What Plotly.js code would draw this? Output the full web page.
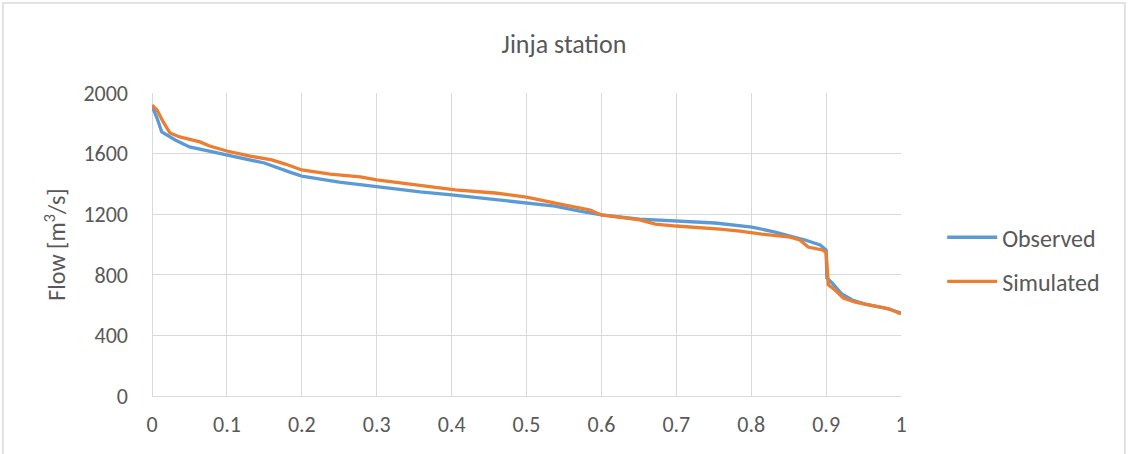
<!DOCTYPE html>
<html>
<head>
<meta charset="utf-8">
<script src="https://cdn.plot.ly/plotly-3.0.1.min.js"></script>
<style>
  html, body { margin: 0; padding: 0; background: #ffffff; }
  #chart { width: 1128px; height: 454px; }
</style>
</head>
<body>
<div id="chart"></div>
<script>
// Flow duration curves at Jinja: exceedance probability vs. flow (m3/s)
const obsExceedance = [0, 0.0067, 0.013, 0.031, 0.05, 0.1, 0.15, 0.184, 0.2, 0.25, 0.3, 0.358, 0.4, 0.451, 0.5, 0.538, 0.571, 0.6, 0.651, 0.7, 0.752, 0.801, 0.832, 0.872, 0.892, 0.9, 0.901, 0.908, 0.921, 0.935, 0.952, 0.979, 1.0];
const obsFlow = [1914, 1835, 1743, 1690, 1644, 1590, 1538, 1478, 1452, 1412, 1380, 1347, 1327, 1300, 1274, 1254, 1221, 1195, 1168, 1155, 1142, 1115, 1082, 1030, 997, 964, 779, 746, 673, 634, 607, 581, 548];

const simExceedance = [0, 0.0067, 0.015, 0.024, 0.037, 0.064, 0.077, 0.1, 0.131, 0.16, 0.178, 0.2, 0.238, 0.278, 0.3, 0.344, 0.385, 0.405, 0.458, 0.5, 0.545, 0.585, 0.6, 0.651, 0.672, 0.7, 0.758, 0.785, 0.814, 0.852, 0.865, 0.876, 0.895, 0.9, 0.903, 0.912, 0.923, 0.939, 0.965, 0.985, 1.0];
const simFlow = [1920, 1888, 1809, 1736, 1710, 1677, 1650, 1617, 1584, 1558, 1531, 1492, 1465, 1446, 1426, 1399, 1373, 1360, 1340, 1313, 1267, 1228, 1195, 1162, 1135, 1122, 1102, 1089, 1069, 1049, 1030, 983, 964, 950, 733, 700, 647, 620, 594, 574, 541];

const seriesNames = ['Observed', 'Simulated'];
const xTicks = [0, 0.1, 0.2, 0.3, 0.4, 0.5, 0.6, 0.7, 0.8, 0.9, 1];
const xTickText = ['0', '0.1', '0.2', '0.3', '0.4', '0.5', '0.6', '0.7', '0.8', '0.9', '1'];
const yTicks = [0, 400, 800, 1200, 1600, 2000];

const FONT = 'Carlito, Calibri, "Open Sans", "Liberation Sans", sans-serif';
const TEXT = '#595959';
const GRID = '#d9d9d9';

const traces = [
  {
    x: obsExceedance, y: obsFlow, name: seriesNames[0], legendgroup: 'obs',
    type: 'scatter', mode: 'lines',
    line: { color: '#5b9bd5', width: 3.3, shape: 'linear' }
  },
  {
    x: simExceedance, y: simFlow, name: seriesNames[1], legendgroup: 'sim',
    type: 'scatter', mode: 'lines',
    line: { color: '#ed7d31', width: 3.3, shape: 'linear' }
  }
];

const layout = {
  width: 1128, height: 454,
  margin: { l: 152, r: 227, t: 93, b: 58 },
  paper_bgcolor: '#ffffff', plot_bgcolor: '#ffffff',
  font: { family: FONT, color: TEXT, size: 22 },
  title: {
    text: 'Jinja station',
    font: { family: FONT, size: 26, color: TEXT },
    x: 0.5, xanchor: 'center', y: 0.904, yanchor: 'middle'
  },
  xaxis: {
    range: [0, 1], tickvals: xTicks, ticktext: xTickText,
    showgrid: true, gridcolor: GRID, gridwidth: 1,
    zeroline: true, zerolinecolor: GRID, zerolinewidth: 1,
    showline: true, linecolor: GRID, linewidth: 1,
    ticks: '', ticklabelstandoff: 9,
    tickfont: { family: FONT, size: 22, color: TEXT },
    fixedrange: true
  },
  yaxis: {
    range: [0, 2000], tickvals: yTicks,
    showgrid: true, gridcolor: GRID, gridwidth: 1,
    zeroline: false, showline: false,
    ticks: '', ticklabelstandoff: 23,
    tickfont: { family: FONT, size: 22, color: TEXT },
    title: { text: 'Flow [m<sup>3</sup>/s]', font: { family: FONT, size: 24, color: TEXT }, standoff: 10 },
    fixedrange: true
  },
  showlegend: true,
  legend: {
    x: 1.055, xanchor: 'left', y: 0.45, yanchor: 'middle',
    font: { family: FONT, size: 24, color: TEXT },
    traceorder: 'grouped', tracegroupgap: 10,
    itemwidth: 50, bgcolor: 'rgba(0,0,0,0)'
  },
  shapes: [
    // outer chart frame
    { type: 'rect', xref: 'paper', yref: 'paper',
      x0: -0.199, x1: 1.299, y0: -0.25, y1: 1.297,
      line: { color: GRID, width: 1.5 }, fillcolor: 'rgba(0,0,0,0)', layer: 'below' }
  ]
};

Plotly.newPlot('chart', traces, layout, { displayModeBar: false, staticPlot: true });
</script>
</body>
</html>
